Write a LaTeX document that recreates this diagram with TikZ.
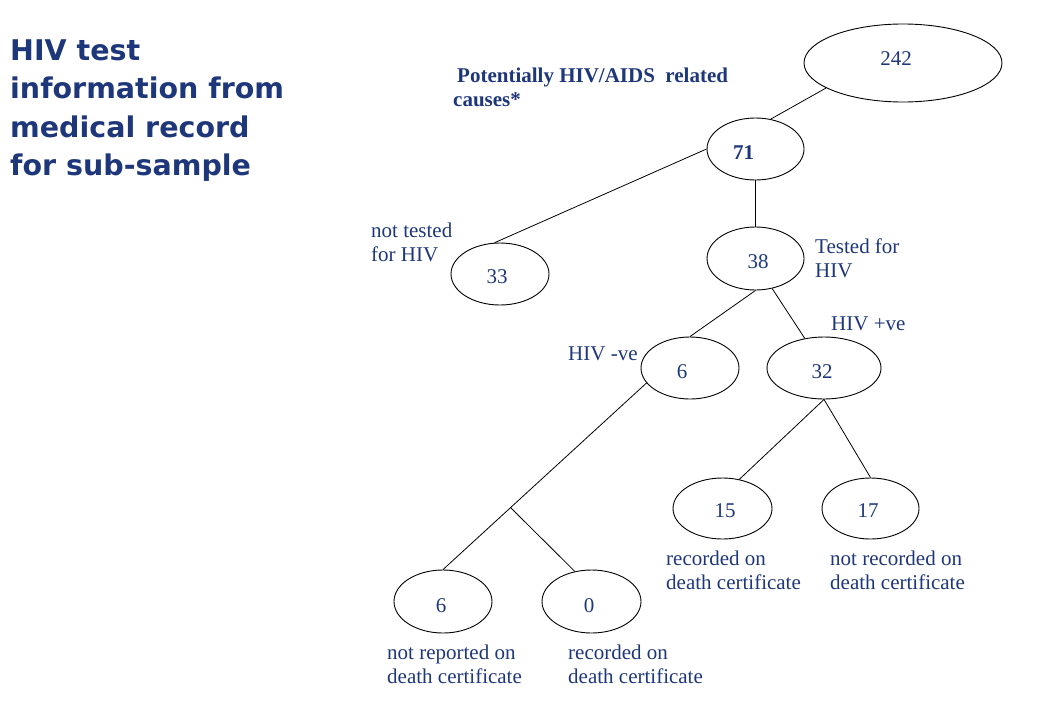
\documentclass[tikz,border=0pt]{standalone}
\usepackage{fontspec}
\setmainfont{Liberation Serif}
\newfontfamily\titlefont{DejaVu Sans}
\usetikzlibrary{shapes.geometric}
\definecolor{navy}{RGB}{30,55,122}
\tikzset{
  oval/.style={draw=black, line width=0.9pt, ellipse, inner sep=0pt, minimum width=98pt, minimum height=62pt},
  numl/.style={text=navy, font=\fontsize{21}{24}\selectfont, inner sep=0pt},
  link/.style={draw=black, line width=0.8pt},
  lbl/.style={anchor=base west, inner sep=0pt, text=navy, font=\fontsize{21}{24}\selectfont},
  ttl/.style={anchor=base west, inner sep=0pt, text=navy, font=\titlefont\bfseries\fontsize{28.5}{38.5}\selectfont}
}
\newcommand{\twol}[2]{\begin{tabular}[t]{@{}l@{}}#1\\#2\end{tabular}}
\begin{document}
\begin{tikzpicture}[x=1pt,y=-1pt]
\useasboundingbox (0,0) rectangle (1040,720);
% title
\node[ttl] (title) at (10,60) {\begin{tabular}[t]{@{}l@{}}HIV test\\information from\\medical record\\for sub-sample\end{tabular}};
% ellipses
\node[oval, minimum width=198pt, minimum height=78pt, label={[numl,xshift=-7pt,yshift=4pt]center:242}] (n242) at (903,63) {};
\node[oval, minimum width=97pt, label={[numl,font=\fontsize{21}{24}\selectfont\bfseries,xshift=-12pt,yshift=-4pt]center:71}] (n71) at (755.5,149) {};
\node[oval, label={[numl,xshift=-3pt,yshift=-3pt]center:33}] (n33) at (500,274) {};
\node[oval, minimum width=97pt, minimum height=63pt, label={[numl,xshift=2.5pt,yshift=-3.5pt]center:38}] (n38) at (755.5,258.5) {};
\node[oval, label={[numl,xshift=-8pt,yshift=-4pt]center:6}] (n6a) at (690,368) {};
\node[oval, minimum width=114pt, label={[numl,xshift=-2pt,yshift=-4pt]center:32}] (n32) at (824,368) {};
\node[oval, minimum width=99pt, minimum height=61pt, label={[numl,xshift=2.5pt,yshift=-2.5pt]center:15}] (n15) at (722.5,508.5) {};
\node[oval, minimum width=97pt, minimum height=61pt, label={[numl,xshift=-2.5pt,yshift=-2.5pt]center:17}] (n17) at (870.5,508.5) {};
\node[oval, minimum height=63pt, label={[numl,xshift=-2pt,yshift=-4.5pt]center:6}] (n6b) at (443,601.5) {};
\node[oval, minimum width=99pt, minimum height=63pt, label={[numl,xshift=-2.5pt,yshift=-4.5pt]center:0}] (n0) at (591.5,601.5) {};
% connectors
\draw[link] (n242.198) -- (n71.63);
\draw[link] (n71.west) -- (n33.100);
\draw[link] (n71.south) -- (n38.north);
\draw[link] (n38.south) -- (n6a.north);
\draw[link] (n38.299) -- (n32.123);
\draw[link] (n6a.199) -- coordinate[pos=0.668] (j) (n6b.north);
\draw[link] (j) -- (n0.119);
\draw[link] (n32.south) -- (n15.60);
\draw[link] (n32.south) -- (n17.north);
% labels
\node[lbl, font=\fontsize{21}{24}\selectfont\bfseries] (lpot) at (453,82) {\twol{\hspace*{4pt}Potentially HIV/AIDS\ \ related}{causes*}};
\node[lbl] (lnt) at (371,237) {\twol{not tested}{for HIV}};
\node[lbl] (lt) at (815,253) {\twol{Tested for}{HIV}};
\node[lbl] (lpos) at (831,330) {HIV +ve};
\node[lbl] (lneg) at (568,360) {HIV -ve};
\node[lbl] (lr1) at (666,565) {\twol{recorded on}{death certificate}};
\node[lbl] (lnr1) at (830,565) {\twol{not recorded on}{death certificate}};
\node[lbl] (lnrep) at (387,659) {\twol{not reported on}{death certificate}};
\node[lbl] (lr2) at (568,659) {\twol{recorded on}{death certificate}};
\end{tikzpicture}
\end{document}
